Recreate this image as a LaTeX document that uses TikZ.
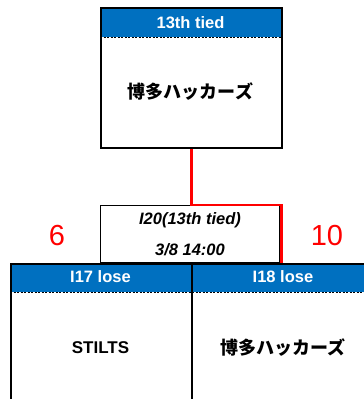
\documentclass[tikz,border=0pt]{standalone}
\usepackage{fontspec}
\setmainfont{Liberation Sans}
\newfontfamily\cjk{Noto Sans CJK JP}
\definecolor{hblue}{HTML}{0070C0}
\begin{document}
\begin{tikzpicture}[x=1pt,y=-1pt,
  hdr/.style={fill=hblue, draw=none, inner sep=0pt, anchor=north west},
  hdrtext/.style={text=white, font=\fontsize{16.5}{18}\selectfont\bfseries, inner sep=0pt},
  jptext/.style={font=\fontsize{18}{20}\selectfont\cjk\bfseries, inner sep=0pt},
  lattext/.style={font=\fontsize{17}{19}\selectfont\bfseries, inner sep=0pt},
  mtext/.style={font=\fontsize{16.5}{18}\selectfont\bfseries\itshape, inner sep=0pt},
  score/.style={text=red, font=\fontsize{29}{32}\selectfont, inner sep=0pt},
  boxline/.style={line width=2pt, black},
  dashline/.style={black, line width=0.5pt, dash pattern=on 2pt off 1.5pt},
  link/.style={red, line width=2.5pt}]
\useasboundingbox (0,0) rectangle (364,399);
\clip (0,0) rectangle (364,399);
% top box
\node[hdr, minimum width=181pt, minimum height=30pt] (tophdr) at (100,7) {};
\draw[dashline] (tophdr.south west) -- (tophdr.south east);
\node[draw, boxline, minimum width=181pt, minimum height=140pt, anchor=north west, inner sep=0pt] (top) at (100,7) {};
\node[hdrtext] (toplabel) at (190.5,22.5) {13th tied};
\node[jptext] (topteam) at (190.5,92) {博多ハッカーズ};
% match box
\node[draw, line width=0.8pt, minimum width=179pt, minimum height=57pt, anchor=north west, inner sep=0pt] (match) at (100,205) {};
\node[mtext] (mline1) at (190,220.5) {I20(13th tied)};
\node[mtext] (mline2) at (190,250) {3/8 14:00};
% bottom boxes
\node[hdr, minimum width=181pt, minimum height=29pt] (lhdr) at (10,262.5) {};
\node[hdr, minimum width=184pt, minimum height=29pt] (rhdr) at (191,262.5) {};
\draw[dashline] (lhdr.south west) -- (rhdr.south east);
\node[draw, boxline, minimum width=181pt, minimum height=160pt, anchor=north west, inner sep=0pt] (lbox) at (10,262.5) {};
\node[draw, boxline, minimum width=184pt, minimum height=160pt, anchor=north west, inner sep=0pt] (rbox) at (191,262.5) {};
\node[hdrtext] (llabel) at (100.5,277) {I17 lose};
\node[hdrtext] (rlabel) at (283,277) {I18 lose};
\node[lattext] (lteam) at (100.5,348) {STILTS};
\node[jptext] (rteam) at (283,348) {博多ハッカーズ};
% scores
\node[score] (s6) at (57,236) {6};
\node[score] (s10) at (327,236) {10};
% connector
\coordinate (rin) at (281.3,262.5);
\draw[link] (top.south) |- (281.3,205) -- (rin);
\end{tikzpicture}
\end{document}
